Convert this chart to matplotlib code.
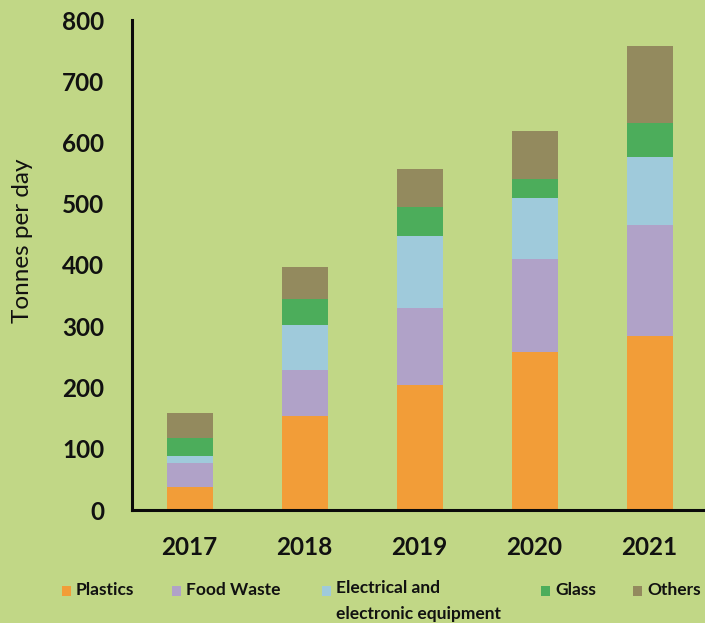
import numpy as np
import matplotlib.pyplot as plt
from matplotlib.patches import Rectangle

years = ["2017", "2018", "2019", "2020", "2021"]
plastics = [38, 154, 204, 258, 284]
food_waste = [39, 75, 126, 152, 182]
electrical = [11, 73, 118, 100, 111]
glass = [30, 43, 47, 31, 55]
others = [40, 52, 62, 77, 125]

series = [plastics, food_waste, electrical, glass, others]
labels = ["Plastics", "Food Waste", "Electrical and\nelectronic equipment", "Glass", "Others"]
colors = ["#F29D38", "#B0A2C8", "#9FCADB", "#4CAD5B", "#938A5E"]
bg = "#C1D786"

plt.rcParams['font.family'] = ['Lato', 'DejaVu Sans']

fig = plt.figure(figsize=(7.05, 6.23), dpi=100, facecolor=bg)
ax = fig.add_axes([132/705, 1-510/623, 575/705, 490/623])
ax.set_facecolor(bg)

x = np.arange(len(years))
bottom = np.zeros(len(years))
for vals, c in zip(series, colors):
    ax.bar(x, vals, width=0.4, bottom=bottom, color=c, linewidth=0)
    bottom += np.array(vals)

ax.set_xlim(-0.5, 4.5)
ax.set_ylim(0, 800)
ax.set_yticks(range(0, 801, 100))
ax.set_xticks(x)
ax.set_xticklabels(years)
ax.tick_params(length=0, labelsize=17.5)
ax.tick_params(axis='y', pad=20)
ax.tick_params(axis='x', pad=19)
for t in ax.get_xticklabels() + ax.get_yticklabels():
    t.set_fontweight('bold')
    t.set_color('#111111')

for s in ['top', 'right']:
    ax.spines[s].set_visible(False)
for s in ['left', 'bottom']:
    ax.spines[s].set_linewidth(2.2)
    ax.spines[s].set_color('#0a0a0a')

fig.text(23/705, 1-241/623, "Tonnes per day", rotation=90, fontsize=17.5,
         ha='center', va='center', color='#111111')

# legend along the bottom
leg_x = [67, 177, 327, 546, 638]
for lx, lab, c in zip(leg_x, labels, colors):
    fig.patches.append(Rectangle((lx/705 - 5/705, 1-596/623), 9/705, 10/623,
                                 transform=fig.transFigure, color=c, linewidth=0))
    if '\n' in lab:
        fig.text((lx + 9)/705, 1-580/623, lab, fontsize=12.5, fontweight='bold',
                 ha='left', va='top', color='#111111', linespacing=1.75)
    else:
        fig.text((lx + 9)/705, 1-590/623, lab, fontsize=12.5, fontweight='bold',
                 ha='left', va='center', color='#111111')

fig.savefig("out.png", dpi=100, facecolor=bg)
